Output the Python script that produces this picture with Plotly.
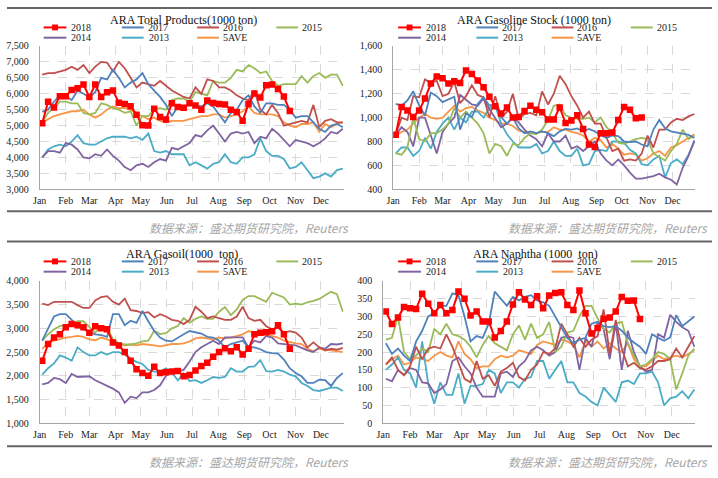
import plotly.graph_objects as go

W, H = 718, 478

months = ["Jan", "Feb", "Mar", "Apr", "May", "Jun", "Jul", "Aug", "Sep", "Oct", "Nov", "Dec"]
month_days = [0, 31, 59, 90, 120, 151, 181, 212, 243, 273, 304, 334]
series = ["2018", "2017", "2016", "2015", "2014", "2013", "5AVE"]
colors = {"2018": "#FF0000", "2017": "#4F81BD", "2016": "#C0504D", "2015": "#9BBB59",
          "2014": "#8064A2", "2013": "#4BACC6", "5AVE": "#F79646"}

# ---------------- ARA Total Products ----------------
tp_2018 = [5070, 5750, 5570, 5920, 5920, 6120, 6170, 6290, 5900, 6290, 5900, 6050, 6100, 5720, 5680, 5610,
           5340, 5010, 5000, 5530, 5270, 5190, 5700, 5580, 5560, 5700, 5630, 5500, 5790, 5710, 5680, 5660,
           5500, 5430, 5150, 5680, 6010, 5880, 6270, 6290, 6150, 5910, 5460]
tp_2017 = [5430, 5500, 5750, 5950, 5920, 5800, 6100, 6000, 5900, 6050, 6500, 6450, 6750, 6500, 6200, 6350,
           6450, 6650, 6300, 6100, 5900, 5650, 5300, 5600, 5550, 5700, 5650, 5600, 5700, 5600, 5350, 5100,
           5400, 5500, 5800, 5950, 5600, 5400, 5700, 5700, 5650, 5650, 5500, 5250, 5300, 5300, 5100, 4900,
           4800, 5000, 5050, 4950]
tp_2016 = [6600, 6650, 6650, 6700, 6750, 6850, 6750, 6900, 6650, 6850, 7000, 6980, 6700, 7000, 6800, 6500,
           6200, 6350, 6300, 6250, 6400, 6250, 6100, 6000, 5900, 5850, 6200, 6000, 6450, 6400, 6200, 6200,
           6100, 5950, 5850, 5800, 6100, 5500, 5350, 5650, 5400, 5000, 5050, 5100, 5150, 5100, 5650, 4950,
           5150, 5200, 5100, 5100]
tp_2015 = [5100, 5400, 5550, 5750, 5750, 5700, 5700, 5400, 5350, 5400, 5700, 5650, 5550, 5500, 5400, 5450,
           5000, 5300, 5300, 5500, 5550, 5500, 5800, 5850, 5850, 5750, 6050, 6000, 5950, 6400, 6350, 6350,
           6500, 6750, 6700, 6900, 6800, 6650, 6700, 6400, 6250, 6300, 6300, 6300, 6550, 6350, 6550, 6650,
           6500, 6600, 6600, 6250]
tp_2014 = [4000, 4200, 4200, 4150, 4450, 4400, 4250, 4000, 3970, 4100, 4050, 4250, 4050, 3900, 3700, 3600,
           3750, 3800, 3700, 3850, 3950, 3900, 4300, 4250, 4350, 4450, 4700, 4650, 4850, 5000, 4750, 4500,
           4750, 4800, 4750, 4800, 4450, 4650, 4600, 4900, 4750, 4550, 4350, 4550, 4500, 4450, 4350, 4450,
           4600, 4800, 4750, 4900]
tp_2013 = [4000, 4250, 4350, 4400, 4350, 4500, 4700, 4450, 4400, 4400, 4500, 4600, 4650, 4650, 4650, 4600,
           4650, 4550, 4750, 4200, 4150, 4200, 4100, 4100, 4100, 3750, 3850, 3750, 3650, 3800, 3850, 4100,
           3850, 3800, 4000, 4000, 4100, 4600, 4200, 4050, 4050, 3950, 3650, 3700, 3850, 3600, 3350, 3400,
           3500, 3400, 3600, 3650]
tp_5ave = [5100, 5200, 5300, 5350, 5400, 5450, 5450, 5500, 5350, 5250, 5350, 5500, 5600, 5550, 5550, 5500,
           5350, 5300, 5200, 5250, 5150, 5100, 5150, 5150, 5150, 5200, 5250, 5300, 5300, 5350, 5350, 5250,
           5300, 5350, 5450, 5600, 5400, 5350, 5350, 5350, 5300, 5100, 5000, 4950, 5050, 5050, 5100, 4800,
           5050, 4950, 5050, 5100]

# ---------------- ARA Gasoline Stock ----------------
gs_2018 = [857, 1090, 1060, 1005, 1060, 1160, 1285, 1345, 1330, 1285, 1305, 1290, 1395, 1365, 1310, 1255,
           1175, 1095, 1035, 1085, 1000, 1005, 1055, 1100, 1065, 1045, 985, 985, 1085, 955, 975, 1020,
           905, 775, 755, 870, 870, 875, 980, 1090, 1065, 995, 1000]
gs_2017 = [1115, 1100, 1145, 1220, 1100, 1020, 1210, 1180, 1130, 1155, 1175, 900, 1035, 1005, 1115, 1170,
           1100, 1115, 1005, 950, 1000, 910, 870, 885, 870, 885, 870, 845, 885, 905, 900, 910,
           885, 905, 885, 855, 830, 850, 845, 800, 795, 800, 775, 760, 900, 980, 910, 885, 875, 870, 855, 830]
gs_2016 = [857, 1000, 980, 1180, 1170, 1320, 1290, 1310, 1180, 1200, 1300, 1120, 1180, 1270, 1190, 1170,
           1000, 1180, 1000, 1050, 1200, 990, 1030, 1040, 1020, 1220, 1110, 1200, 1350, 1280, 1180, 1100,
           1000, 1050, 950, 950, 830, 720, 740, 640, 650, 640, 700, 850, 750, 900, 900, 960, 990, 980, 1010, 1030]
gs_2015 = [700, 690, 750, 1000, 820, 800, 870, 870, 900, 950, 1080, 1000, 1050, 1000, 950, 870,
           700, 780, 760, 680, 780, 770, 830, 870, 860, 900, 980, 1100, 1110, 1020, 1000, 990,
           990, 1000, 960, 1000, 920, 870, 790, 780, 800, 820, 830, 820, 700, 670, 640, 720, 780, 900, 820, 850]
gs_2014 = [850, 920, 880, 760, 1000, 1000, 850, 700, 880, 950, 1000, 1190, 1150, 1110, 1100, 1160,
           1070, 1000, 920, 950, 1000, 960, 900, 850, 820, 760, 870, 800, 800, 850, 740, 760,
           720, 760, 800, 700, 640, 600, 650, 600, 540, 490, 490, 500, 510, 530, 500, 480, 440, 580, 680, 810]
gs_2013 = [700, 750, 750, 680, 720, 830, 740, 880, 950, 1000, 900, 1000, 960, 1050, 1050, 1000,
           1080, 1100, 950, 860, 800, 750, 750, 750, 780, 700, 720, 800, 720, 680, 680, 740,
           600, 610, 720, 730, 720, 800, 800, 790, 730, 700, 610, 600, 650, 680, 500, 620, 650, 610, 690, 800]
gs_5ave = [850, 880, 900, 950, 1000, 1030, 1000, 990, 1000, 1050, 1100, 1050, 1080, 1090, 1060, 1040,
           1000, 980, 950, 950, 930, 890, 880, 880, 870, 880, 880, 920, 900, 900, 880, 870,
           850, 800, 830, 810, 750, 780, 740, 690, 700, 690, 640, 660, 700, 720, 680, 750, 770, 800, 830, 860]

# ---------------- ARA Gasoil ----------------
go_2018 = [2316, 2670, 2807, 2875, 3025, 3093, 3066, 3025, 2910, 3045, 3000, 2980, 2700, 2640, 2500, 2316,
           2140, 2057, 2000, 2190, 2057, 2077, 2090, 2100, 1990, 2015, 2110, 2205, 2275, 2400, 2500, 2580,
           2520, 2600, 2450, 2570, 2875, 2910, 2920, 2940, 3065, 2875, 2570]
go_2017 = [2740, 3010, 3250, 3300, 3300, 3180, 3045, 2980, 2920, 2875, 2860, 2820, 3300, 3300, 3066, 3160,
           3115, 3366, 3150, 2943, 2807, 2740, 2725, 2807, 2875, 2943, 2910, 2890, 2820, 2807, 2740, 2600,
           2670, 2705, 2740, 2600, 2600, 2560, 2500, 2480, 2466, 2343, 2160, 2057, 1990, 1850, 1850, 1920,
           1907, 1785, 1955, 2057]
go_2016 = [3520, 3490, 3560, 3560, 3560, 3560, 3490, 3430, 3430, 3590, 3660, 3680, 3560, 3500, 3625, 3385,
           3366, 3320, 3340, 3230, 3300, 3250, 3180, 3160, 3090, 3180, 3455, 3350, 3215, 3250, 3215, 3180,
           3180, 3250, 3455, 3215, 3160, 3180, 3045, 2980, 3010, 2910, 2943, 2910, 2807, 2600, 2705, 2600,
           2535, 2570, 2550, 2590]
go_2015 = [2740, 2875, 2980, 3045, 3066, 3115, 3150, 3150, 3025, 2910, 3045, 3025, 2770, 2685, 2660, 2660,
           2685, 2725, 2740, 2950, 2880, 2900, 3000, 3050, 3220, 3120, 3200, 3250, 3200, 3200, 3350, 3450,
           3280, 3400, 3600, 3680, 3680, 3620, 3560, 3750, 3700, 3650, 3500, 3520, 3500, 3550, 3580, 3620,
           3700, 3770, 3720, 3350]
go_2014 = [1820, 1850, 1955, 1930, 1850, 2040, 1975, 1975, 1990, 1907, 1850, 1785, 1730, 1650, 1430, 1560,
           1530, 1650, 1650, 1700, 1800, 2000, 2125, 2090, 2125, 2300, 2500, 2600, 2670, 2740, 2670, 2810,
           2810, 2810, 2810, 2600, 2740, 2705, 2840, 2807, 2685, 2670, 2660, 2640, 2590, 2535, 2500, 2600,
           2570, 2670, 2660, 2685]
go_2013 = [2025, 2160, 2260, 2430, 2385, 2316, 2600, 2500, 2430, 2430, 2500, 2450, 2500, 2500, 2450, 2360,
           2295, 2250, 2125, 2090, 2090, 2160, 2070, 1907, 2057, 1890, 1907, 1850, 1907, 1975, 1955, 1975,
           2160, 2090, 2090, 2190, 2200, 2330, 2100, 2090, 2125, 2090, 2025, 1990, 1850, 1785, 1700, 1680,
           1715, 1750, 1750, 1680]
go_5ave = [2570, 2685, 2740, 2770, 2807, 2820, 2840, 2820, 2770, 2750, 2807, 2770, 2725, 2670, 2640, 2660,
           2640, 2670, 2660, 2640, 2620, 2640, 2670, 2670, 2685, 2725, 2790, 2807, 2790, 2770, 2807, 2790,
           2807, 2840, 2875, 2943, 2910, 2875, 2875, 2840, 2807, 2740, 2705, 2685, 2670, 2570, 2520, 2570,
           2550, 2535, 2520, 2500]

# ---------------- ARA Naphtha ----------------
na_2018 = [314, 279, 297, 327, 323, 321, 364, 336, 309, 332, 309, 318, 370, 350, 303, 314,
           286, 286, 241, 259, 286, 334, 368, 348, 332, 357, 323, 359, 366, 368, 332, 318,
           373, 309, 252, 268, 294, 297, 314, 355, 344, 345, 293]
na_2017 = [225, 195, 210, 190, 175, 230, 260, 300, 310, 330, 330, 365, 360, 300, 230, 245,
           240, 280, 370, 350, 330, 355, 345, 355, 360, 345, 340, 330, 300, 270, 240, 225,
           235, 240, 280, 285, 273, 270, 273, 260, 241, 227, 215, 195, 250, 240, 232, 241, 304, 273, 287, 300]
na_2016 = [165, 185, 150, 135, 160, 215, 180, 210, 215, 210, 250, 215, 170, 125, 115, 175,
           125, 135, 105, 145, 155, 170, 130, 120, 150, 165, 200, 195, 210, 280, 250, 215,
           240, 215, 235, 245, 320, 195, 290, 210, 160, 170, 155, 150, 160, 175, 175, 180, 210, 185, 215, 245]
na_2015 = [235, 240, 300, 200, 180, 190, 210, 200, 265, 250, 280, 250, 245, 235, 215, 185,
           220, 245, 225, 215, 205, 250, 275, 235, 280, 240, 250, 285, 200, 215, 255, 260,
           300, 330, 330, 295, 265, 255, 280, 285, 225, 190, 160, 165, 180, 200, 195, 180, 95, 140, 190, 210]
na_2014 = [125, 118, 150, 135, 155, 150, 115, 112, 85, 95, 110, 175, 185, 160, 140, 100,
           75, 75, 75, 140, 145, 130, 160, 175, 205, 215, 205, 190, 200, 240, 245, 240,
           150, 240, 215, 285, 265, 180, 280, 150, 260, 200, 160, 145, 150, 250, 240, 305, 285, 270, 260, 215]
na_2013 = [150, 165, 185, 150, 140, 100, 230, 110, 55, 115, 80, 80, 140, 55, 105, 105,
           110, 150, 140, 85, 115, 115, 100, 125, 130, 175, 175, 125, 150, 175, 115, 115,
           85, 75, 60, 50, 100, 80, 60, 115, 120, 110, 140, 140, 145, 115, 50, 70, 75, 90, 70, 95]
na_5ave = [165, 180, 190, 165, 170, 185, 180, 175, 190, 200, 190, 185, 230, 195, 180, 155,
           160, 160, 180, 190, 185, 190, 205, 200, 195, 220, 230, 225, 220, 235, 230, 220,
           185, 230, 215, 230, 210, 225, 210, 200, 225, 180, 160, 160, 175, 190, 180, 185, 190, 185, 195, 205]

panels = [
    dict(title="ARA Total Products(1000 ton)", data=[tp_2018, tp_2017, tp_2016, tp_2015, tp_2014, tp_2013, tp_5ave],
         yr=[3000, 7500], dt=500, box=(33, 340, 41, 188), ox=0, oy=0, tx=178),
    dict(title="ARA Gasoline Stock (1000 ton)", data=[gs_2018, gs_2017, gs_2016, gs_2015, gs_2014, gs_2013, gs_5ave],
         yr=[400, 1600], dt=200, box=(390, 695, 41, 188), ox=358, oy=0, tx=532),
    dict(title="ARA Gasoil(1000  ton)", data=[go_2018, go_2017, go_2016, go_2015, go_2014, go_2013, go_5ave],
         yr=[1000, 4000], dt=500, box=(33, 340, 282, 428), ox=0, oy=240, tx=177),
    dict(title="ARA Naphtha (1000  ton)", data=[na_2018, na_2017, na_2016, na_2015, na_2014, na_2013, na_5ave],
         yr=[0, 400], dt=50, box=(380, 695, 282, 428), ox=358, oy=240, tx=534),
]


def px(x):
    return x / W


def py(y):
    return 1 - y / H


fig = go.Figure()
shapes = []
annotations = []
serif = "Liberation Serif"

for k, p in enumerate(panels):
    n = "" if k == 0 else str(k + 1)
    x0, x1, y0, y1 = p["box"]
    order = [6, 5, 4, 3, 2, 1, 0]
    for j in order:
        name = series[j]
        vals = p["data"][j]
        xs = [3 + 7 * i for i in range(len(vals))]
        if name == "2018":
            fig.add_trace(go.Scatter(x=xs, y=vals, mode="lines+markers", name=name,
                                     line=dict(color=colors[name], width=2),
                                     marker=dict(symbol="square", size=6.5, color=colors[name]),
                                     xaxis="x" + n, yaxis="y" + n, showlegend=False))
        else:
            fig.add_trace(go.Scatter(x=xs, y=vals, mode="lines", name=name,
                                     line=dict(color=colors[name], width=1.8),
                                     xaxis="x" + n, yaxis="y" + n, showlegend=False))
    fig.layout["xaxis" + n] = dict(domain=[px(x0), px(x1)], range=[0, 361], tickvals=month_days,
                                   ticktext=months, showgrid=True, gridcolor="#D9D9D9", griddash="dash",
                                   showline=True, linecolor="#A6A6A6", linewidth=1, zeroline=False,
                                   tickfont=dict(family=serif, size=10, color="#222"),
                                   anchor="y" + n, ticks="", ticklabelstandoff=2, fixedrange=True)
    fig.layout["yaxis" + n] = dict(domain=[py(y1), py(y0)], range=p["yr"], dtick=p["dt"],
                                   tickformat=",d", showgrid=True, gridcolor="#D9D9D9", griddash="dash",
                                   showline=True, linecolor="#A6A6A6", linewidth=1, zeroline=False,
                                   tickfont=dict(family=serif, size=10, color="#222"),
                                   anchor="x" + n, ticks="", ticklabelstandoff=8, fixedrange=True)
    ox, oy = p["ox"], p["oy"]
    # title
    annotations.append(dict(x=px(p["tx"]), y=py(oy + 14), xref="paper", yref="paper", text=p["title"],
                            showarrow=False, xanchor="center", yanchor="middle",
                            font=dict(family=serif, size=12, color="#111")))
    # manual legend
    rows = [(22, [(0, 37, 60, 64), (1, 116, 138, 141), (2, 192, 214, 217), (3, 272, 294, 297)]),
            (32.5, [(4, 37, 60, 64), (5, 116, 138, 142), (6, 192, 214, 217)])]
    for ry, items in rows:
        for j, lx0, lx1, tx in items:
            name = series[j]
            shapes.append(dict(type="line", xref="paper", yref="paper",
                               x0=px(ox + lx0), x1=px(ox + lx1), y0=py(oy + ry), y1=py(oy + ry),
                               line=dict(color=colors[name], width=2)))
            if j == 0:
                cx = ox + (lx0 + lx1) / 2
                shapes.append(dict(type="rect", xref="paper", yref="paper",
                                   x0=px(cx - 3), x1=px(cx + 3), y0=py(oy + ry - 3), y1=py(oy + ry + 3),
                                   fillcolor=colors[name], line=dict(width=0)))
            annotations.append(dict(x=px(ox + tx), y=py(oy + ry), xref="paper", yref="paper", text=name,
                                    showarrow=False, xanchor="left", yanchor="middle", borderpad=0,
                                    font=dict(family=serif, size=10, color="#222")))
    # source
    annotations.append(dict(x=px(347 if ox == 0 else 710), y=py(oy + 227), xref="paper", yref="paper",
                            text="<i>数据来源：盛达期货研究院，Reuters</i>", showarrow=False,
                            xanchor="right", yanchor="middle",
                            font=dict(family="Noto Sans CJK SC", size=12, color="#A6A6A6")))

# separator lines
for yline in [2, 210.5, 241.5, 451.5]:
    shapes.append(dict(type="line", xref="paper", yref="paper", x0=0, x1=px(712),
                       y0=py(yline), y1=py(yline), line=dict(color="#666666", width=2)))

fig.update_layout(width=W, height=H, margin=dict(l=0, r=0, t=0, b=0),
                  paper_bgcolor="white", plot_bgcolor="white", showlegend=False, hovermode=False,
                  shapes=shapes, annotations=annotations)

fig.write_html("out.html", config={"displayModeBar": False, "staticPlot": True},
               post_script="document.body.style.margin='0';")
